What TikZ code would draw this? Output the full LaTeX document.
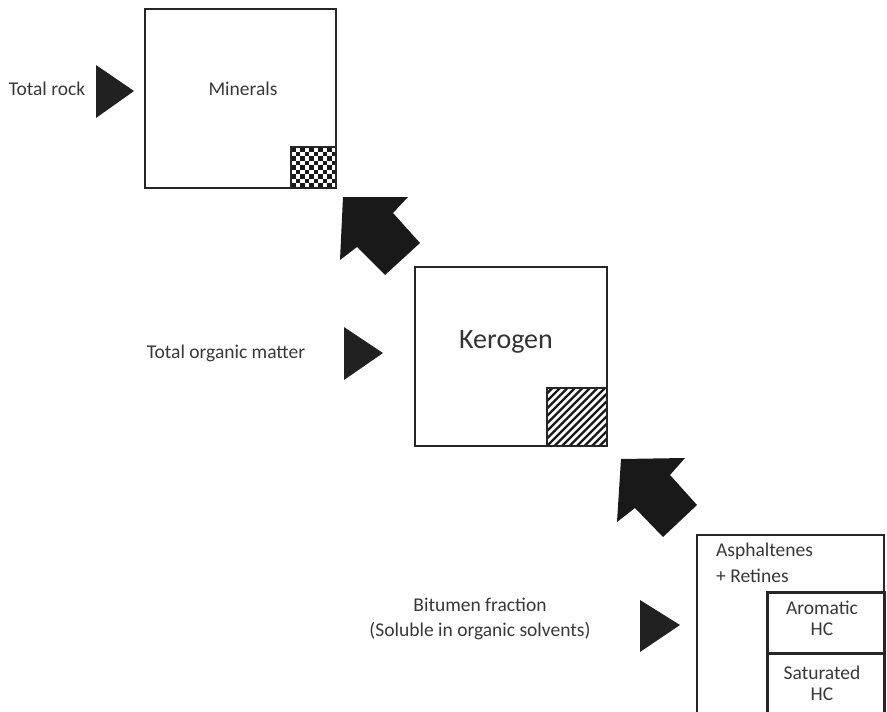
\documentclass[tikz,border=0pt]{standalone}
\usepackage{fontspec}
\setmainfont{Carlito}
\begin{document}
\begin{tikzpicture}[x=1pt,y=-1pt,
  box/.style={draw=black!85,line width=2pt},
  thickbox/.style={draw=black!85,line width=3pt},
  lbl/.style={text=black!78,font=\fontsize{19.5}{25}\selectfont,inner sep=0pt},
  lbls/.style={text=black!78,font=\fontsize{19.5}{21}\selectfont,inner sep=0pt},
  tri/.style={fill=black!87,draw=none},
  bigarrow/.style={fill=black!90,draw=none}]
\clip (0,0) rectangle (887,712);
\useasboundingbox (0,0) rectangle (887,712);
% Minerals box
\draw[box] (145,9) rectangle (336,188);
\node[lbl] (minerals) at (243,89) {Minerals};
% checker square
\foreach \i in {0,...,9}{\foreach \j in {0,...,8}{
  \pgfmathtruncatemacro{\cpar}{mod(\i+\j,2)}
  \ifnum\cpar=0
    \fill[black!90] ({291+\i*4.5},{147+\j*4.556}) rectangle ++(4.5,4.556);
  \fi}}
\draw[box] (291,147) rectangle (336,188);
% Total rock
\node[lbl] (rock) at (47,89) {Total rock};
\fill[tri] (96,65) -- (96,118) -- (134,91) -- cycle;
% big arrow 1
\fill[bigarrow] (343,197) -- (408,197) -- (393,213) -- (420,243) -- (385,275) -- (357,247) -- (340,260) -- cycle;
% Kerogen box
\draw[box] (415,267) rectangle (607,446);
\node[text=black!80,inner sep=0pt,font=\fontsize{28}{32}\selectfont] (kerogen) at (506,342) {Kerogen};
\begin{scope}
\clip (547,388) rectangle (607,446);
\foreach \k in {0,...,16}{
  \draw[black!90,line width=2.2pt] ({547-60+\k*7.5},446) -- ++(62,-62);
}
\end{scope}
\draw[box] (547,388) rectangle (607,446);
% Total organic matter
\node[lbl] (tom) at (226,353) {Total organic matter};
\fill[tri] (344,327) -- (344,380) -- (383,353) -- cycle;
% big arrow 2
\fill[bigarrow] (621,459) -- (685,458) -- (670,475) -- (697,505) -- (663,537) -- (635,508) -- (617,522) -- cycle;
% Bitumen
\node[lbl,align=center] (bit) at (480,619) {Bitumen fraction\\(Soluble in organic solvents)};
\fill[tri] (640,600) -- (640,652) -- (680,625) -- cycle;
\draw[box] (697,535) rectangle (884,730);
\node[lbl,anchor=west] (asph) at (716,551) {Asphaltenes};
\node[lbl,anchor=west] (ret) at (716,576) {+ Retines};
\draw[thickbox] (767,592) rectangle (884,653);
\draw[thickbox] (767,653) rectangle (884,730);
\node[lbls,align=center] (aro) at (822,618) {Aromatic\\HC};
\node[lbls,align=center] (sat) at (822,683) {Saturated\\HC};
\end{tikzpicture}
\end{document}
